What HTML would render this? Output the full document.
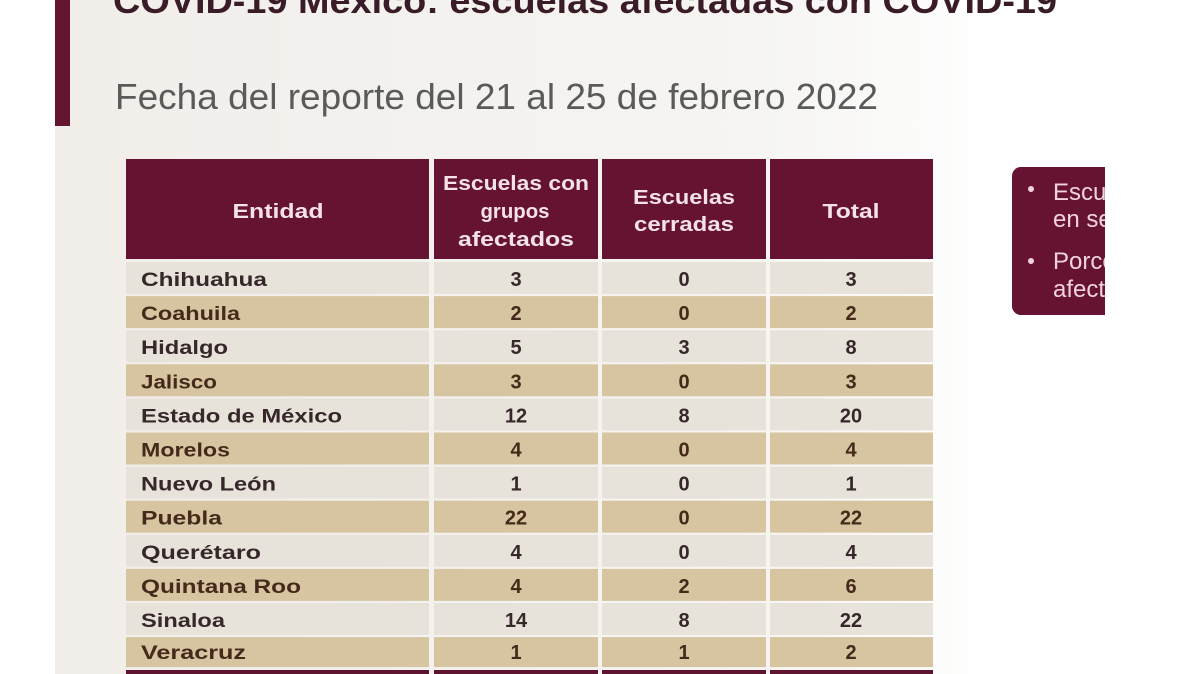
<!DOCTYPE html>
<html><head><meta charset="utf-8"><style>
html,body{margin:0;padding:0;width:1200px;height:674px;overflow:hidden;background:#fff}
svg{display:block}
text{font-family:"Liberation Sans",sans-serif}
</style></head><body>
<svg width="1200" height="674" viewBox="0 0 1200 674" xmlns="http://www.w3.org/2000/svg">
<defs>
<linearGradient id="bg" x1="0" y1="0" x2="1" y2="0">
<stop offset="0" stop-color="#f1eeea"/>
<stop offset="0.75" stop-color="#f6f5f2"/>
<stop offset="1" stop-color="#ffffff"/>
</linearGradient>
<clipPath id="bc"><rect x="1000" y="160" width="105" height="170"/></clipPath>
</defs>
<rect x="0" y="0" width="1200" height="674" fill="#fff"/>
<rect x="55" y="0" width="950" height="674" fill="url(#bg)"/>
<rect x="55" y="0" width="15" height="126" fill="#641530"/>
<text x="113" y="13" font-size="36" font-weight="bold" fill="#3a1c28" textLength="944" lengthAdjust="spacingAndGlyphs">COVID-19 México: escuelas afectadas con COVID-19</text>
<text x="115" y="109" font-size="36" fill="#5a5a5a" textLength="763" lengthAdjust="spacingAndGlyphs">Fecha del reporte del 21 al 25 de febrero 2022</text>

<!-- header -->
<g fill="#661333">
<rect x="126" y="159" width="303" height="100"/>
<rect x="434" y="159" width="164" height="100"/>
<rect x="602" y="159" width="164" height="100"/>
<rect x="770" y="159" width="163" height="100"/>
</g>
<g font-size="20" font-weight="bold" fill="#f4e2e8" text-anchor="middle">
<text x="278" y="218" textLength="91" lengthAdjust="spacingAndGlyphs">Entidad</text>
<text x="516" y="190" textLength="146" lengthAdjust="spacingAndGlyphs">Escuelas con</text>
<text x="515" y="218" textLength="69" lengthAdjust="spacingAndGlyphs">grupos</text>
<text x="516" y="246" textLength="116" lengthAdjust="spacingAndGlyphs">afectados</text>
<text x="684" y="204" textLength="102" lengthAdjust="spacingAndGlyphs">Escuelas</text>
<text x="684" y="231" textLength="100" lengthAdjust="spacingAndGlyphs">cerradas</text>
<text x="851" y="218" textLength="57" lengthAdjust="spacingAndGlyphs">Total</text>
</g>

<!-- rows -->
<g id="rows" font-size="20">
<g transform="translate(0,262)"><g fill="#e8e3da"><rect x="126" width="303" height="32"/><rect x="434" width="164" height="32"/><rect x="602" width="164" height="32"/><rect x="770" width="163" height="32"/></g>
<g font-weight="bold" fill="#35272a"><text x="141" y="24" font-size="19" textLength="126" lengthAdjust="spacingAndGlyphs">Chihuahua</text><text x="516" y="24" text-anchor="middle">3</text><text x="684" y="24" text-anchor="middle">0</text><text x="851" y="24" text-anchor="middle">3</text></g></g>
<g transform="translate(0,296.1)"><g fill="#d6c5a0"><rect x="126" width="303" height="32"/><rect x="434" width="164" height="32"/><rect x="602" width="164" height="32"/><rect x="770" width="163" height="32"/></g>
<g font-weight="bold" fill="#45291a"><text x="141" y="24" font-size="19" textLength="99" lengthAdjust="spacingAndGlyphs">Coahuila</text><text x="516" y="24" text-anchor="middle">2</text><text x="684" y="24" text-anchor="middle">0</text><text x="851" y="24" text-anchor="middle">2</text></g></g>
<g transform="translate(0,330.2)"><g fill="#e8e3da"><rect x="126" width="303" height="32"/><rect x="434" width="164" height="32"/><rect x="602" width="164" height="32"/><rect x="770" width="163" height="32"/></g>
<g font-weight="bold" fill="#35272a"><text x="141" y="24" font-size="19" textLength="87" lengthAdjust="spacingAndGlyphs">Hidalgo</text><text x="516" y="24" text-anchor="middle">5</text><text x="684" y="24" text-anchor="middle">3</text><text x="851" y="24" text-anchor="middle">8</text></g></g>
<g transform="translate(0,364.3)"><g fill="#d6c5a0"><rect x="126" width="303" height="32"/><rect x="434" width="164" height="32"/><rect x="602" width="164" height="32"/><rect x="770" width="163" height="32"/></g>
<g font-weight="bold" fill="#45291a"><text x="141" y="24" font-size="19" textLength="76" lengthAdjust="spacingAndGlyphs">Jalisco</text><text x="516" y="24" text-anchor="middle">3</text><text x="684" y="24" text-anchor="middle">0</text><text x="851" y="24" text-anchor="middle">3</text></g></g>
<g transform="translate(0,398.4)"><g fill="#e8e3da"><rect x="126" width="303" height="32"/><rect x="434" width="164" height="32"/><rect x="602" width="164" height="32"/><rect x="770" width="163" height="32"/></g>
<g font-weight="bold" fill="#35272a"><text x="141" y="24" font-size="19" textLength="201" lengthAdjust="spacingAndGlyphs">Estado de México</text><text x="516" y="24" text-anchor="middle">12</text><text x="684" y="24" text-anchor="middle">8</text><text x="851" y="24" text-anchor="middle">20</text></g></g>
<g transform="translate(0,432.5)"><g fill="#d6c5a0"><rect x="126" width="303" height="32"/><rect x="434" width="164" height="32"/><rect x="602" width="164" height="32"/><rect x="770" width="163" height="32"/></g>
<g font-weight="bold" fill="#45291a"><text x="141" y="24" font-size="19" textLength="89" lengthAdjust="spacingAndGlyphs">Morelos</text><text x="516" y="24" text-anchor="middle">4</text><text x="684" y="24" text-anchor="middle">0</text><text x="851" y="24" text-anchor="middle">4</text></g></g>
<g transform="translate(0,466.6)"><g fill="#e8e3da"><rect x="126" width="303" height="32"/><rect x="434" width="164" height="32"/><rect x="602" width="164" height="32"/><rect x="770" width="163" height="32"/></g>
<g font-weight="bold" fill="#35272a"><text x="141" y="24" font-size="19" textLength="135" lengthAdjust="spacingAndGlyphs">Nuevo León</text><text x="516" y="24" text-anchor="middle">1</text><text x="684" y="24" text-anchor="middle">0</text><text x="851" y="24" text-anchor="middle">1</text></g></g>
<g transform="translate(0,500.7)"><g fill="#d6c5a0"><rect x="126" width="303" height="32"/><rect x="434" width="164" height="32"/><rect x="602" width="164" height="32"/><rect x="770" width="163" height="32"/></g>
<g font-weight="bold" fill="#45291a"><text x="141" y="24" font-size="19" textLength="81" lengthAdjust="spacingAndGlyphs">Puebla</text><text x="516" y="24" text-anchor="middle">22</text><text x="684" y="24" text-anchor="middle">0</text><text x="851" y="24" text-anchor="middle">22</text></g></g>
<g transform="translate(0,534.8)"><g fill="#e8e3da"><rect x="126" width="303" height="32"/><rect x="434" width="164" height="32"/><rect x="602" width="164" height="32"/><rect x="770" width="163" height="32"/></g>
<g font-weight="bold" fill="#35272a"><text x="141" y="24" font-size="19" textLength="120" lengthAdjust="spacingAndGlyphs">Querétaro</text><text x="516" y="24" text-anchor="middle">4</text><text x="684" y="24" text-anchor="middle">0</text><text x="851" y="24" text-anchor="middle">4</text></g></g>
<g transform="translate(0,568.9)"><g fill="#d6c5a0"><rect x="126" width="303" height="32"/><rect x="434" width="164" height="32"/><rect x="602" width="164" height="32"/><rect x="770" width="163" height="32"/></g>
<g font-weight="bold" fill="#45291a"><text x="141" y="24" font-size="19" textLength="160" lengthAdjust="spacingAndGlyphs">Quintana Roo</text><text x="516" y="24" text-anchor="middle">4</text><text x="684" y="24" text-anchor="middle">2</text><text x="851" y="24" text-anchor="middle">6</text></g></g>
<g transform="translate(0,603)"><g fill="#e8e3da"><rect x="126" width="303" height="32"/><rect x="434" width="164" height="32"/><rect x="602" width="164" height="32"/><rect x="770" width="163" height="32"/></g>
<g font-weight="bold" fill="#35272a"><text x="141" y="24" font-size="19" textLength="84" lengthAdjust="spacingAndGlyphs">Sinaloa</text><text x="516" y="24" text-anchor="middle">14</text><text x="684" y="24" text-anchor="middle">8</text><text x="851" y="24" text-anchor="middle">22</text></g></g>
<g transform="translate(0,637.1)"><g fill="#d6c5a0"><rect x="126" width="303" height="30"/><rect x="434" width="164" height="30"/><rect x="602" width="164" height="30"/><rect x="770" width="163" height="30"/></g>
<g font-weight="bold" fill="#45291a"><text x="141" y="22" font-size="19" textLength="105" lengthAdjust="spacingAndGlyphs">Veracruz</text><text x="516" y="22" text-anchor="middle">1</text><text x="684" y="22" text-anchor="middle">1</text><text x="851" y="22" text-anchor="middle">2</text></g></g>
</g>
<g fill="#5e1430">
<rect x="126" y="670" width="303" height="4"/>
<rect x="434" y="670" width="164" height="4"/>
<rect x="602" y="670" width="164" height="4"/>
<rect x="770" y="670" width="163" height="4"/>
</g>

<!-- right box -->
<g clip-path="url(#bc)">
<rect x="1012" y="167" width="120" height="148" rx="9" fill="#661333"/>
<g fill="#f2d3dd" font-size="24">
<circle cx="1031" cy="189" r="3"/>
<circle cx="1031" cy="261" r="3"/>
<text x="1053" y="200">Escuelas</text>
<text x="1053" y="227">en seguimiento</text>
<text x="1053" y="269">Porcentaje</text>
<text x="1053" y="297">afectadas</text>
</g>
</g>
</svg>
</body></html>
